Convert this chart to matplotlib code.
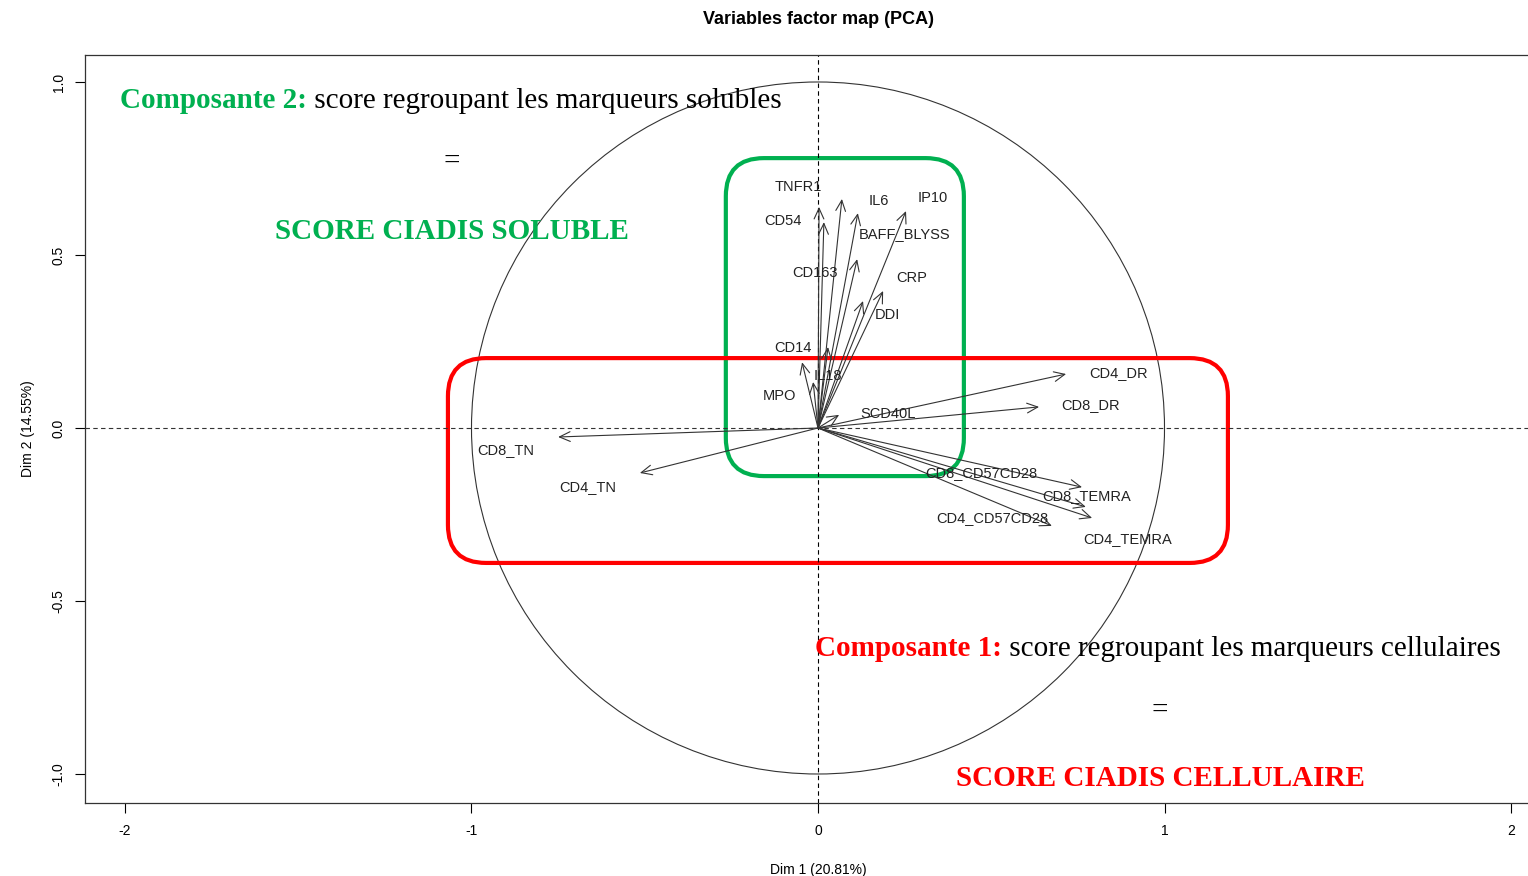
import numpy as np
import matplotlib.pyplot as plt
from matplotlib.patches import Circle, FancyBboxPatch

# coordonnées des variables (Dim 1, Dim 2)
variables = ['TNFR1', 'CD54', 'IL6', 'BAFF_BLYSS', 'IP10', 'CD163', 'CRP', 'DDI',
             'CD14', 'IL18', 'MPO', 'SCD40L', 'CD4_DR', 'CD8_DR',
             'CD8_CD57CD28', 'CD8_TEMRA', 'CD4_CD57CD28', 'CD4_TEMRA',
             'CD8_TN', 'CD4_TN']
dim1 = [0.003, 0.017, 0.069, 0.115, 0.254, 0.113, 0.188, 0.130,
        0.029, -0.014, -0.046, 0.061, 0.716, 0.638,
        0.762, 0.773, 0.675, 0.791,
        -0.750, -0.514]
dim2 = [0.639, 0.595, 0.662, 0.621, 0.627, 0.488, 0.396, 0.367,
        0.234, 0.133, 0.190, 0.038, 0.156, 0.061,
        -0.171, -0.228, -0.283, -0.260,
        -0.026, -0.130]
# position des étiquettes
label_x = [-0.058, -0.101, 0.176, 0.251, 0.332, -0.009, 0.271, 0.199,
           -0.072, 0.029, -0.110, 0.202, 0.866, 0.788,
           0.470, 0.776, 0.502, 0.895,
           -0.900, -0.664]
label_y = [0.697, 0.598, 0.656, 0.561, 0.665, 0.448, 0.434, 0.327,
           0.231, 0.150, 0.092, 0.040, 0.159, 0.066,
           -0.130, -0.197, -0.260, -0.321,
           -0.064, -0.171]

fig = plt.figure(figsize=(15.28, 8.76), dpi=100)
ax = fig.add_axes([85 / 1528, 73 / 876, 1466 / 1528, 748 / 876])
ax.set_xlim(-2.1154, 2.1154)
ax.set_ylim(-1.0838, 1.078)

# cercle des corrélations et axes
ax.add_patch(Circle((0, 0), 1, fill=False, lw=0.8, color='#333333'))
ax.axhline(0, color='#333333', lw=0.8, ls=(0, (4, 3)))
ax.axvline(0, color='black', lw=0.8, ls=(0, (4, 3)))

# flèches
for x, y in zip(dim1, dim2):
    ax.annotate('', xy=(x, y), xytext=(0, 0),
                arrowprops=dict(arrowstyle='->,head_length=0.55,head_width=0.25',
                                color='#333333', lw=0.8, shrinkA=0, shrinkB=0,
                                mutation_scale=14))
for name, x, y in zip(variables, label_x, label_y):
    ax.text(x, y, name, ha='center', va='center', fontsize=10.5,
            family='Liberation Sans', color='#222222')

# cadres
ax.add_patch(FancyBboxPatch((-0.266, -0.139), 0.687, 0.919,
                            boxstyle='round,pad=0,rounding_size=0.11',
                            fill=False, ec='#00b050', lw=3))
ax.add_patch(FancyBboxPatch((-1.068, -0.390), 2.251, 0.592,
                            boxstyle='round,pad=0,rounding_size=0.11',
                            fill=False, ec='#ff0000', lw=3))

# annotations
serif = 'Liberation Serif'
fs = 21
t2 = ax.text(-2.014, 0.946, 'Composante 2:', color='#00b050', fontsize=fs,
             fontweight='bold', family=serif, va='center', ha='left')
ax.annotate(' score regroupant les marqueurs solubles', xy=(1, 0), xycoords=t2,
            color='black', fontsize=fs, family=serif, va='bottom', ha='left')
ax.text(-1.056, 0.768, '=', fontsize=fs, family=serif, ha='center', va='center')
ax.text(-1.056, 0.569, 'SCORE CIADIS SOLUBLE', color='#00b050', fontsize=fs,
        fontweight='bold', family=serif, ha='center', va='center')
t1 = ax.text(-0.009, -0.636, 'Composante 1:', color='#ff0000', fontsize=fs,
             fontweight='bold', family=serif, va='center', ha='left')
ax.annotate(' score regroupant les marqueurs cellulaires', xy=(1, 0), xycoords=t1,
            color='black', fontsize=fs, family=serif, va='bottom', ha='left')
ax.text(0.987, -0.818, '=', fontsize=fs, family=serif, ha='center', va='center')
ax.text(0.987, -1.012, 'SCORE CIADIS CELLULAIRE', color='#ff0000', fontsize=fs,
        fontweight='bold', family=serif, ha='center', va='center')

# axes
ax.set_xticks([-2, -1, 0, 1, 2])
ax.set_xticklabels(['-2', '-1', '0', '1', '2'])
ax.set_yticks([-1, -0.5, 0, 0.5, 1])
ax.set_yticklabels(['-1.0', '-0.5', '0.0', '0.5', '1.0'], rotation=90, va='center')
ax.tick_params(direction='out', length=7, width=0.8, labelsize=10, pad=8)
ax.tick_params(axis='y', pad=7)
for lab in ax.get_xticklabels() + ax.get_yticklabels():
    lab.set_family('Liberation Sans')
for s in ax.spines.values():
    s.set_color('#333333')
    s.set_linewidth(0.9)
ax.set_xlabel('Dim 1 (20.81%)', fontsize=10, family='Liberation Sans', labelpad=18)
ax.set_ylabel('Dim 2 (14.55%)', fontsize=10, family='Liberation Sans', labelpad=12)
fig.text(818 / 1528, 1 - 19 / 876, 'Variables factor map (PCA)', ha='center',
         va='center', fontsize=13, fontweight='bold', family='Liberation Sans')

fig.savefig('out.png', dpi=100)
